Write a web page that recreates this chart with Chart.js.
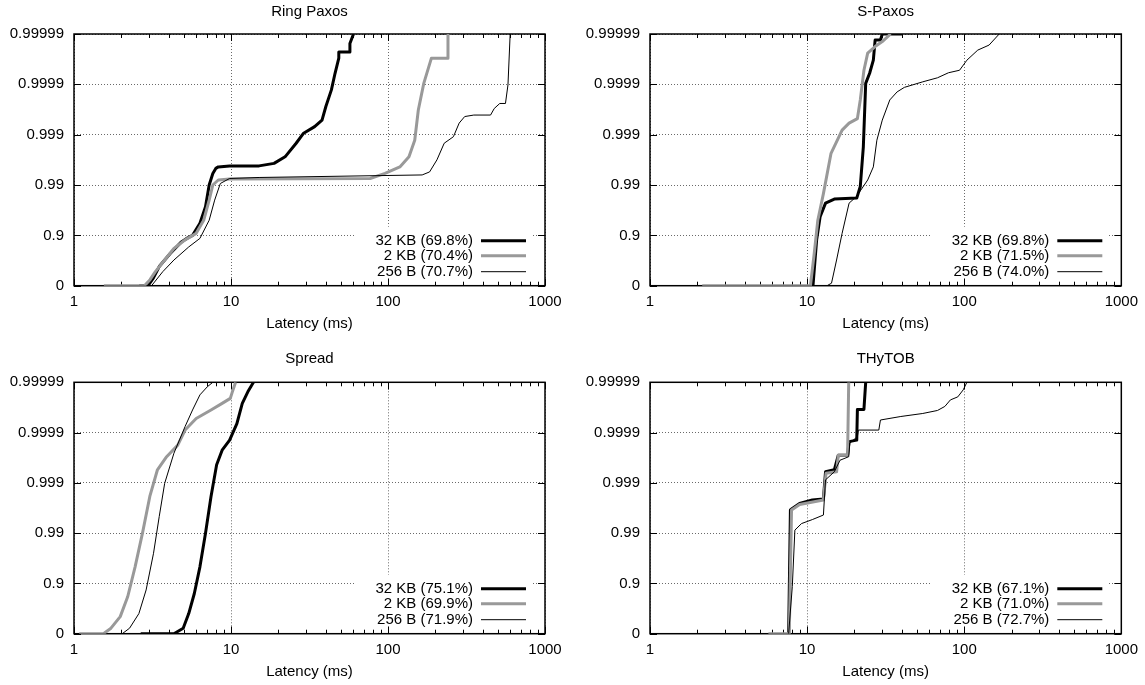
<!DOCTYPE html>
<html>
<head>
<meta charset="utf-8">
<script src="https://cdn.jsdelivr.net/npm/chart.js@4.4.1/dist/chart.umd.min.js"></script>
<style>
  body { margin: 0; background: #fff; }
  #wrap { position: relative; width: 1145px; height: 685px; }
  canvas { position: absolute; }
</style>
</head>
<body>
<div id="wrap">
  <canvas id="ringPaxos" width="580" height="342" style="left:0px;top:0px"></canvas>
  <canvas id="sPaxos" width="565" height="342" style="left:580px;top:0px"></canvas>
  <canvas id="spread" width="580" height="343" style="left:0px;top:342px"></canvas>
  <canvas id="thytob" width="565" height="343" style="left:580px;top:342px"></canvas>
</div>
<script>
// y values are "number of nines": 0 -> 0, 1 -> 0.9, 2 -> 0.99 ...
const yTickValues = [0, 1, 2, 3, 4, 5];
const yTickLabels = ['0', '0.9', '0.99', '0.999', '0.9999', '0.99999'];
const xTickValues = [1, 10, 100, 1000];

// [latency ms, nines]
const ringPaxos32KB = [[2.6,0],[2.96,0],[3.2,0.15],[3.49,0.38],[4.1,0.64],[4.83,0.87],[5.3,0.95],[5.69,1.0],[6.34,1.24],[6.88,1.57],[7.26,2.0],[7.66,2.23],[8.0,2.33],[8.3,2.36],[9.8,2.38],[15.1,2.38],[18.8,2.43],[22.1,2.56],[26,2.83],[29,3.03],[34.1,3.16],[38,3.29],[40.2,3.56],[43.6,3.89],[46,4.22],[48.6,4.52],[48.6,4.64],[57.2,4.64],[57.2,4.81],[60.3,5.0]];
const ringPaxos2KB = [[1.55,0],[2.81,0],[3.05,0.12],[3.3,0.28],[3.78,0.51],[4.33,0.74],[5.1,0.91],[6.0,1.04],[6.7,1.3],[7.26,1.7],[7.66,2.0],[8.3,2.1],[9.8,2.12],[77,2.13],[95.7,2.23],[119,2.36],[136,2.56],[148,2.89],[156,3.49],[169,4.02],[189,4.52],[241,4.52],[241,5.0]];
const ringPaxos256B = [[2.9,0],[3.12,0],[3.68,0.28],[4.33,0.51],[5.38,0.77],[6.34,0.94],[7.26,1.3],[7.87,1.7],[8.55,2.03],[9.8,2.13],[15.1,2.15],[165,2.2],[184,2.26],[205,2.5],[228,2.83],[261,2.96],[284,3.23],[308,3.36],[352,3.39],[450,3.39],[475,3.52],[515,3.62],[560,3.62],[581,3.99],[600,5.0]];

const sPaxos32KB = [[10.9,0],[11.5,0.91],[12.1,1.37],[13.1,1.64],[14.9,1.72],[20.7,1.74],[21.8,1.97],[22.8,2.76],[23.6,4.02],[25,4.22],[26.4,4.48],[27.1,4.88],[29.3,4.88],[30.1,5.0],[40.5,5.0]];
const sPaxos2KB = [[2.15,0],[10.5,0],[11.1,0.64],[11.7,1.3],[12.7,1.83],[14.2,2.63],[16.7,3.09],[18.5,3.23],[20.9,3.32],[21.8,3.69],[23,4.28],[24.3,4.62],[27.1,4.75],[30.1,4.85],[34,5.0]];
const sPaxos256B = [[13.4,0],[14.3,0.05],[15.4,0.51],[16.7,1.04],[18.5,1.64],[20.6,1.77],[24.3,2.1],[26.4,2.36],[27.8,2.89],[30.1,3.29],[33.6,3.69],[37.4,3.85],[41.6,3.94],[54.5,4.05],[67.6,4.13],[79.4,4.23],[93.4,4.28],[104,4.48],[122,4.68],[144,4.78],[167,5.0]];

const spread32KB = [[2.66,0],[4.33,0],[4.96,0.11],[5.38,0.4],[5.84,0.8],[6.34,1.33],[6.88,2.0],[7.46,2.73],[8.1,3.36],[8.78,3.65],[9.8,3.85],[10.9,4.18],[11.8,4.58],[12.8,4.81],[13.9,5.0]];
const spread2KB = [[1.08,0],[1.54,0],[1.72,0.11],[1.97,0.34],[2.2,0.74],[2.45,1.33],[2.73,2.0],[3.04,2.73],[3.4,3.26],[3.89,3.52],[4.58,3.75],[5.1,4.05],[6.0,4.28],[7.46,4.45],[8.78,4.58],[9.9,4.68],[10.2,4.81],[10.7,5.0]];
const spread256B = [[2.03,0],[2.26,0.11],[2.59,0.4],[2.88,0.87],[3.21,1.6],[3.49,2.33],[3.78,2.99],[4.33,3.59],[5.1,4.12],[5.69,4.45],[6.34,4.75],[7.06,4.91],[7.66,5.0]];

const thytob32KB = [[7.63,0],[7.83,2.46],[8.05,2.49],[8.96,2.59],[10.8,2.66],[12.7,2.68],[13.1,3.22],[14.9,3.26],[15.8,3.55],[18.1,3.55],[18.5,3.82],[20.7,3.85],[20.9,4.46],[23,4.46],[23.6,5.0]];
const thytob2KB = [[5.67,0],[7.7,0],[7.96,2.46],[8.96,2.57],[12.7,2.66],[13.2,3.19],[15.4,3.22],[15.8,3.55],[18.1,3.55],[18.4,5.0]];
const thytob256B = [[7.63,0],[8.05,0.94],[8.36,2.06],[9.21,2.19],[10.8,2.27],[12.7,2.36],[13.1,3.06],[14.9,3.22],[16.2,3.45],[18.4,3.52],[18.7,3.79],[20.9,3.92],[21.2,4.05],[28.6,4.05],[29.3,4.25],[39.5,4.32],[54.5,4.38],[67.6,4.44],[75.3,4.52],[81.7,4.65],[91,4.71],[98.6,4.85],[104,5.0]];

const ringPaxosLabels = ['32 KB (69.8%)', '2 KB (70.4%)', '256 B (70.7%)'];
const sPaxosLabels = ['32 KB (69.8%)', '2 KB (71.5%)', '256 B (74.0%)'];
const spreadLabels = ['32 KB (75.1%)', '2 KB (69.9%)', '256 B (71.9%)'];
const thytobLabels = ['32 KB (67.1%)', '2 KB (71.0%)', '256 B (72.7%)'];

const seriesStyles = [
    { color: '#000000', width: 3 },
    { color: '#999999', width: 3 },
    { color: '#000000', width: 1 }
];

Chart.defaults.font.family = '"Liberation Sans", Arial, sans-serif';
Chart.defaults.font.size = 15;
Chart.defaults.color = '#000';

// frame, inward ticks, opaque key and panel title (gnuplot look)
const framePlugin = {
    id: 'frame',
    beforeDatasetsDraw(chart) {
        const { ctx, chartArea: a, scales: { x, y } } = chart;
        ctx.save();
        ctx.fillStyle = '#fff';
        ctx.fillRect(a.right - 190, a.bottom - 59, 176, 57);

        ctx.strokeStyle = '#000';
        ctx.lineWidth = 1;
        ctx.beginPath();
        [1, 10, 100].forEach(d => {
            for (let m = 1; m <= 10; m++) {
                const px = Math.round(x.getPixelForValue(d * m)) + 0.5;
                const len = (m === 1 || m === 10) ? 7 : 4;
                ctx.moveTo(px, a.bottom); ctx.lineTo(px, a.bottom - len);
                ctx.moveTo(px, a.top); ctx.lineTo(px, a.top + len);
            }
        });
        yTickValues.forEach(v => {
            const py = Math.round(y.getPixelForValue(v)) + 0.5;
            ctx.moveTo(a.left, py); ctx.lineTo(a.left + 7, py);
            ctx.moveTo(a.right, py); ctx.lineTo(a.right - 7, py);
        });
        ctx.stroke();
        ctx.lineWidth = 1.5;
        ctx.strokeRect(a.left, a.top, a.right - a.left, a.bottom - a.top);
        ctx.restore();
    },
    afterDatasetsDraw(chart, args, opts) {
        const { ctx, chartArea: a } = chart;
        const rows = [45, 30, 14];
        ctx.save();
        ctx.font = '15px "Liberation Sans", Arial, sans-serif';
        ctx.fillStyle = '#000';
        ctx.textAlign = 'right';
        ctx.textBaseline = 'middle';
        chart.data.datasets.forEach((ds, i) => {
            const yy = a.bottom - rows[i];
            ctx.fillText(ds.label, a.right - 72, yy);
            ctx.strokeStyle = ds.borderColor;
            ctx.lineWidth = ds.borderWidth;
            ctx.beginPath();
            ctx.moveTo(a.right - 64, yy);
            ctx.lineTo(a.right - 19, yy);
            ctx.stroke();
        });
        ctx.textAlign = 'center';
        ctx.fillText(opts.title, (a.left + a.right) / 2, opts.titleY);
        ctx.restore();
    }
};

function makePanel(id, title, series, labels, geo) {
    const ctx = document.getElementById(id).getContext('2d');
    new Chart(ctx, {
        type: 'line',
        data: {
            datasets: series.map((s, i) => ({
                label: labels[i],
                data: s.map(p => ({ x: p[0], y: p[1] })),
                borderColor: seriesStyles[i].color,
                borderWidth: seriesStyles[i].width,
                pointRadius: 0,
                tension: 0,
                borderJoinStyle: 'round',
                order: 3 - i
            }))
        },
        options: {
            responsive: false,
            animation: false,
            layout: { padding: { top: geo.top, right: geo.right, left: 0, bottom: 0 } },
            plugins: {
                legend: { display: false },
                tooltip: { enabled: false },
                frame: { title: title, titleY: geo.titleY }
            },
            scales: {
                x: {
                    type: 'logarithmic',
                    min: 1,
                    max: 1000,
                    afterBuildTicks: s => { s.ticks = xTickValues.map(v => ({ value: v, major: true })); },
                    afterFit: s => { s.height = geo.xHeight; },
                    grid: { color: '#6a6a6a', lineWidth: 1, drawTicks: false },
                    border: { display: false, dash: [1, 2] },
                    ticks: { padding: 7, maxRotation: 0, autoSkip: false, callback: v => String(v) },
                    title: { display: true, text: 'Latency (ms)', padding: { top: 0, bottom: geo.titlePad } }
                },
                y: {
                    type: 'linear',
                    min: 0,
                    max: 5,
                    afterBuildTicks: s => { s.ticks = yTickValues.map(v => ({ value: v })); },
                    afterFit: s => { s.width = geo.yWidth; },
                    grid: { color: '#6a6a6a', lineWidth: 1, drawTicks: false },
                    border: { display: false, dash: [1, 2] },
                    ticks: { padding: 10, autoSkip: false, callback: v => yTickLabels[yTickValues.indexOf(v)] }
                }
            }
        },
        plugins: [framePlugin]
    });
}

makePanel('ringPaxos', 'Ring Paxos', [ringPaxos32KB, ringPaxos2KB, ringPaxos256B], ringPaxosLabels,
    { top: 34, right: 35, yWidth: 74, xHeight: 56.3, titleY: 12, titlePad: 9 });
makePanel('sPaxos', 'S-Paxos', [sPaxos32KB, sPaxos2KB, sPaxos256B], sPaxosLabels,
    { top: 34, right: 23, yWidth: 70, xHeight: 56.3, titleY: 12, titlePad: 9 });
makePanel('spread', 'Spread', [spread32KB, spread2KB, spread256B], spreadLabels,
    { top: 40.3, right: 35, yWidth: 74, xHeight: 51.3, titleY: 17, titlePad: 4 });
makePanel('thytob', 'THyTOB', [thytob32KB, thytob2KB, thytob256B], thytobLabels,
    { top: 40.3, right: 23, yWidth: 70, xHeight: 51.3, titleY: 17, titlePad: 4 });
</script>
</body>
</html>
